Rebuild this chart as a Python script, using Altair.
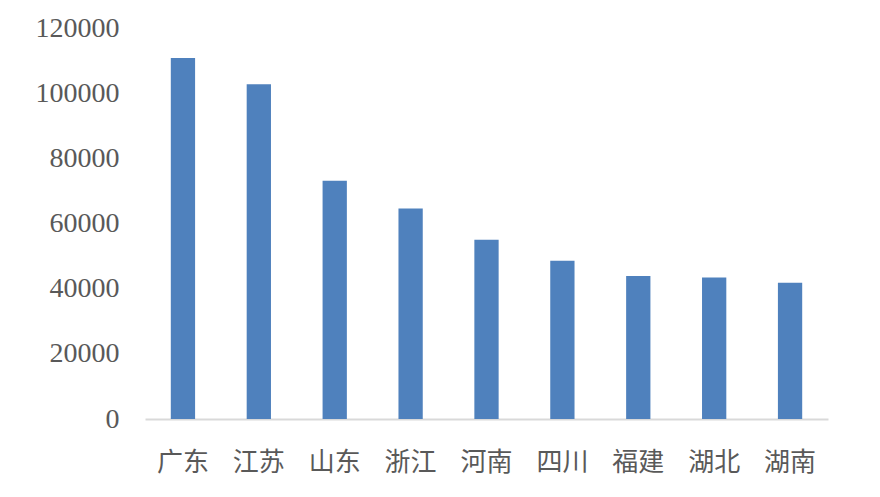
import altair as alt
import pandas as pd

provinces = ["广东", "江苏", "山东", "浙江", "河南", "四川", "福建", "湖北", "湖南"]
values = [110761, 102719, 73129, 64613, 54997, 48599, 43904, 43443, 41782]

df = pd.DataFrame({"province": provinces, "value": values})

chart = alt.Chart(df).mark_bar(color="#4F81BD").encode(
    x=alt.X("province:N", sort=provinces, title=None,
            scale=alt.Scale(paddingInner=0.68, paddingOuter=0.34),
            axis=alt.Axis(labelAngle=0, labelFont="Noto Sans CJK SC", labelFontSize=26,
                          labelColor="#595959", labelPadding=30, ticks=False,
                          domainColor="#D9D9D9", domainWidth=2)),
    y=alt.Y("value:Q", title=None,
            scale=alt.Scale(domain=[0, 120000]),
            axis=alt.Axis(values=[0, 20000, 40000, 60000, 80000, 100000, 120000],
                          labelFont="Liberation Serif", labelFontSize=28,
                          labelColor="#595959", labelPadding=26, ticks=False,
                          domain=False, grid=False, format="d")),
).properties(
    width=683, height=391,
    autosize=alt.AutoSizeParams(type="none"),
    padding={"left": 137, "top": 20, "right": 40, "bottom": 60},
).configure(background="white").configure_view(strokeWidth=0, stroke="transparent")

chart.save("out.html", embed_options={"renderer": "svg", "actions": False})
